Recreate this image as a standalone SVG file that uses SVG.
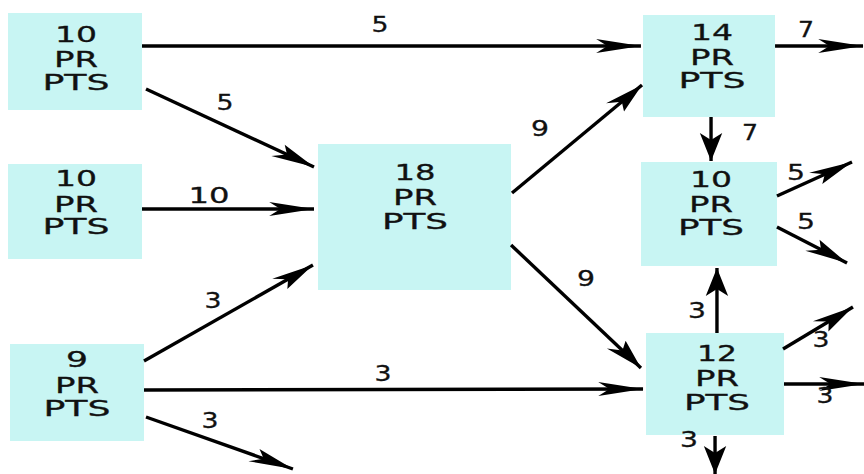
<svg xmlns="http://www.w3.org/2000/svg" width="864" height="474" viewBox="0 0 864 474">
<style>
.box{fill:#c8f5f3}
.t{font-family:"DejaVu Sans",Verdana,sans-serif;font-size:21px;fill:#111;stroke:#111;stroke-width:0.3;text-anchor:middle}
.e{stroke:#000;stroke-width:3.4;fill:none;marker-end:url(#ah);vector-effect:non-scaling-stroke}
</style>
<defs>
<marker id="ah" markerUnits="userSpaceOnUse" viewBox="-30 -8 32 16" refX="0" refY="0" markerWidth="32" markerHeight="16" orient="auto">
<path d="M0,0 L-28,-7 L-21,0 L-28,7 Z" fill="#000"/>
</marker>
</defs>
<rect width="864" height="474" fill="#fff"/>
<g id="nA">
<rect class="box" x="8" y="13" width="134" height="97"/>
<text class="t" x="76" y="42" textLength="42" lengthAdjust="spacingAndGlyphs">10</text>
<text class="t" x="76" y="67" textLength="44" lengthAdjust="spacingAndGlyphs">PR</text>
<text class="t" x="76" y="90" textLength="67" lengthAdjust="spacingAndGlyphs">PTS</text>
</g>
<g id="nB">
<rect class="box" x="8" y="164" width="134" height="95"/>
<text class="t" x="76" y="186" textLength="42" lengthAdjust="spacingAndGlyphs">10</text>
<text class="t" x="76" y="212" textLength="44" lengthAdjust="spacingAndGlyphs">PR</text>
<text class="t" x="76" y="234" textLength="67" lengthAdjust="spacingAndGlyphs">PTS</text>
</g>
<g id="nC">
<rect class="box" x="10" y="344" width="134" height="97"/>
<text class="t" x="77" y="367" textLength="22" lengthAdjust="spacingAndGlyphs">9</text>
<text class="t" x="77" y="393" textLength="44" lengthAdjust="spacingAndGlyphs">PR</text>
<text class="t" x="77" y="416" textLength="67" lengthAdjust="spacingAndGlyphs">PTS</text>
</g>
<g id="nD">
<rect class="box" x="318" y="144" width="193" height="146"/>
<text class="t" x="415" y="180" textLength="41" lengthAdjust="spacingAndGlyphs">18</text>
<text class="t" x="415" y="205" textLength="44" lengthAdjust="spacingAndGlyphs">PR</text>
<text class="t" x="415" y="229" textLength="66" lengthAdjust="spacingAndGlyphs">PTS</text>
</g>
<g id="nE">
<rect class="box" x="643" y="15" width="132" height="102"/>
<text class="t" x="712" y="40" textLength="42" lengthAdjust="spacingAndGlyphs">14</text>
<text class="t" x="712" y="65" textLength="44" lengthAdjust="spacingAndGlyphs">PR</text>
<text class="t" x="712" y="88" textLength="67" lengthAdjust="spacingAndGlyphs">PTS</text>
</g>
<g id="nF">
<rect class="box" x="641" y="162" width="136" height="104"/>
<text class="t" x="711" y="187" textLength="42" lengthAdjust="spacingAndGlyphs">10</text>
<text class="t" x="711" y="212" textLength="44" lengthAdjust="spacingAndGlyphs">PR</text>
<text class="t" x="711" y="235" textLength="66" lengthAdjust="spacingAndGlyphs">PTS</text>
</g>
<g id="nG">
<rect class="box" x="646" y="333" width="138" height="102"/>
<text class="t" x="717" y="361" textLength="40" lengthAdjust="spacingAndGlyphs">12</text>
<text class="t" x="717" y="386" textLength="44" lengthAdjust="spacingAndGlyphs">PR</text>
<text class="t" x="717" y="410" textLength="66" lengthAdjust="spacingAndGlyphs">PTS</text>
</g>
<g id="connectors">
<g transform="scale(1.6 1)">
<line class="e" x1="88.75" y1="46" x2="400.6" y2="46"/>
<line class="e" x1="91.25" y1="89" x2="196.25" y2="167"/>
<line class="e" x1="88.75" y1="209" x2="196.25" y2="209"/>
<line class="e" x1="90" y1="361" x2="195.6" y2="265"/>
<line class="e" x1="90" y1="390" x2="401.9" y2="389"/>
<line class="e" x1="91.25" y1="417" x2="183.1" y2="469"/>
<line class="e" x1="320" y1="193" x2="401.25" y2="85"/>
<line class="e" x1="319.4" y1="245" x2="400.6" y2="368"/>
<line class="e" x1="444.4" y1="117" x2="444.4" y2="161"/>
<line class="e" x1="484.4" y1="46" x2="539.4" y2="46"/>
<line class="e" x1="485.6" y1="196" x2="532.5" y2="162"/>
<line class="e" x1="485.6" y1="227" x2="529.4" y2="263"/>
<line class="e" x1="448.1" y1="333" x2="448.1" y2="268"/>
<line class="e" x1="489.4" y1="349" x2="533.1" y2="307"/>
<line class="e" x1="490" y1="384" x2="540" y2="384"/>
<line class="e" x1="446.9" y1="436" x2="446.9" y2="474"/>
</g>
<text class="t" x="380" y="32" textLength="17" lengthAdjust="spacingAndGlyphs">5</text>
<text class="t" x="225" y="110" textLength="17" lengthAdjust="spacingAndGlyphs">5</text>
<text class="t" x="209" y="203" textLength="41" lengthAdjust="spacingAndGlyphs">10</text>
<text class="t" x="213" y="308" textLength="17" lengthAdjust="spacingAndGlyphs">3</text>
<text class="t" x="383" y="381" textLength="17" lengthAdjust="spacingAndGlyphs">3</text>
<text class="t" x="210" y="428" textLength="17" lengthAdjust="spacingAndGlyphs">3</text>
<text class="t" x="540" y="136" textLength="18" lengthAdjust="spacingAndGlyphs">9</text>
<text class="t" x="586" y="286" textLength="18" lengthAdjust="spacingAndGlyphs">9</text>
<text class="t" x="750" y="140" textLength="16" lengthAdjust="spacingAndGlyphs">7</text>
<text class="t" x="806" y="37" textLength="16" lengthAdjust="spacingAndGlyphs">7</text>
<text class="t" x="796" y="180" textLength="18" lengthAdjust="spacingAndGlyphs">5</text>
<text class="t" x="806" y="229" textLength="18" lengthAdjust="spacingAndGlyphs">5</text>
<text class="t" x="697" y="318" textLength="18" lengthAdjust="spacingAndGlyphs">3</text>
<text class="t" x="821" y="347" textLength="17" lengthAdjust="spacingAndGlyphs">3</text>
<text class="t" x="825" y="403" textLength="17" lengthAdjust="spacingAndGlyphs">3</text>
<text class="t" x="689" y="447" textLength="18" lengthAdjust="spacingAndGlyphs">3</text>
</g>
</svg>
